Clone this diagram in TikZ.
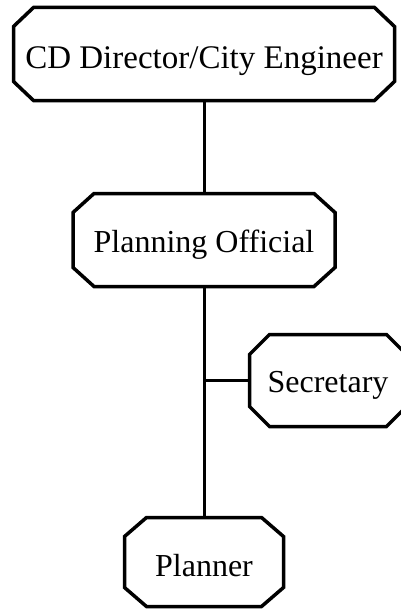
\documentclass[tikz,border=0pt]{standalone}
\usepackage{fontspec}
\setmainfont{Liberation Serif}
\begin{document}
\begin{tikzpicture}[x=1pt,y=-1pt,
  post/.style={rectangle, inner sep=0pt, outer sep=0pt,
    text height=24pt, text depth=0pt,
    font=\fontsize{32}{38}\selectfont},
  frame/.style={draw=black, line width=3.5pt, line join=miter},
  link/.style={draw=black, line width=3pt}]
  % octagonal outline around a node: #1 node, #2 horizontal cut, #3 vertical cut
  \newcommand\octframe[3]{%
    \draw[frame] ([xshift=#2]#1.north west) -- ([xshift=-#2]#1.north east)
      -- ([yshift=-#3]#1.north east) -- ([yshift=#3]#1.south east)
      -- ([xshift=-#2]#1.south east) -- ([xshift=#2]#1.south west)
      -- ([yshift=#3]#1.south west) -- ([yshift=-#3]#1.north west) -- cycle;}
  \useasboundingbox (0,0) rectangle (401,610);
  \clip (0,0) rectangle (401,610);
  \node[post, minimum width=381pt, minimum height=93pt, text height=28pt,
        font=\fontsize{33}{39}\selectfont] (dir) at (204,54) {CD Director/City Engineer};
  \node[post, minimum width=262pt, minimum height=93pt] (plan) at (204,240) {Planning Official};
  \node[post, minimum width=157pt, minimum height=92pt, text height=23pt] (sec) at (328,380.5) {Secretary};
  \node[post, minimum width=159pt, minimum height=89pt, text height=28pt] (pln) at (204,562) {Planner};
  \octframe{dir}{20pt}{19pt}
  \octframe{plan}{21pt}{19pt}
  \octframe{sec}{20pt}{20pt}
  \octframe{pln}{22pt}{19pt}
  \coordinate (j) at (plan.south |- sec.west);
  \draw[link] (dir.south) -- (plan.north);
  \draw[link] (plan.south) -- (pln.north);
  \draw[link] (j) -- (sec.west);
\end{tikzpicture}
\end{document}
